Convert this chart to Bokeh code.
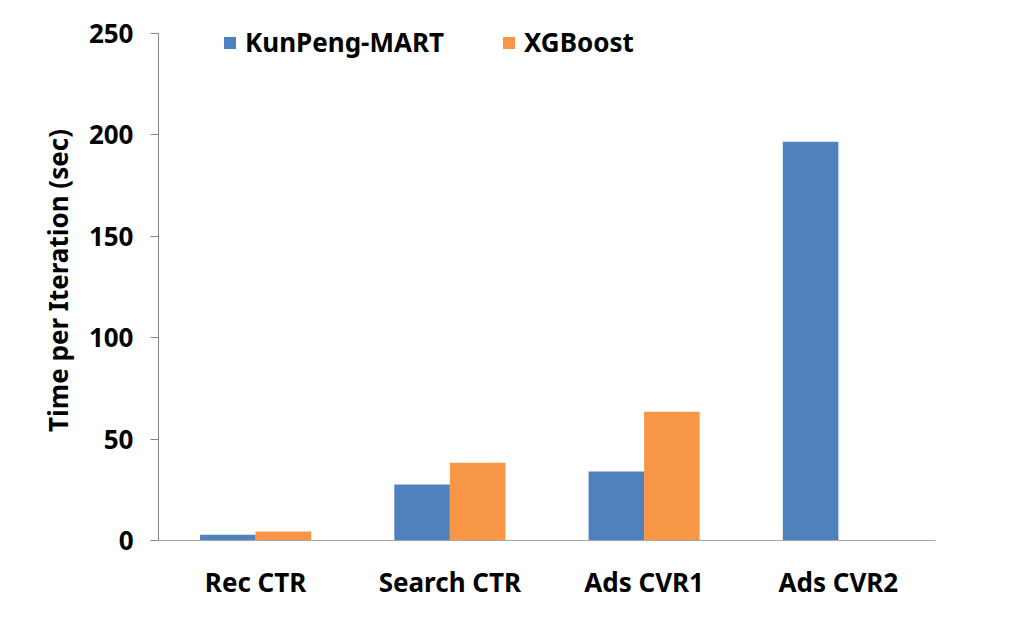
from bokeh.plotting import figure
from bokeh.models import ColumnDataSource, FactorRange, Range1d, Legend, LegendItem, FixedTicker
from bokeh.transform import dodge
from bokeh.embed import file_html
from bokeh.resources import INLINE

categories = ["Rec CTR", "Search CTR", "Ads CVR1", "Ads CVR2"]
kunpeng = [2.8, 27.6, 34.0, 196.6]
xgboost = [4.4, 38.3, 63.5, float("nan")]
series_names = ["KunPeng-MART", "XGBoost"]
y_ticks = [0, 50, 100, 150, 200, 250]

FONT = "Noto Sans"
BLUE = "#4F81BD"
ORANGE = "#F79646"

src = ColumnDataSource(dict(cat=categories, kp=kunpeng, xg=xgboost))

# frame extends 13 px above the 250 tick so the legend sits inside it;
# the axis line itself is bounded to 0..250
p = figure(width=1020, height=636, x_range=FactorRange(*categories),
           y_range=Range1d(0, 256.4), output_backend="svg", toolbar_location=None,
           min_border_left=158, min_border_right=85, min_border_top=20, min_border_bottom=96)
p.outline_line_color = None
p.xgrid.visible = False
p.ygrid.visible = False

bw = 0.286
r1 = p.vbar(x=dodge("cat", -bw / 2, range=p.x_range), top="kp", width=bw, source=src,
            fill_color=BLUE, line_color=None)
r2 = p.vbar(x=dodge("cat", bw / 2, range=p.x_range), top="xg", width=bw, source=src,
            fill_color=ORANGE, line_color=None)

# axes
p.yaxis.ticker = FixedTicker(ticks=y_ticks)
p.yaxis.bounds = (0, 250)
p.yaxis.axis_line_color = "#868686"
p.yaxis.major_tick_line_color = "#868686"
p.yaxis.major_tick_out = 8
p.yaxis.major_tick_in = 0
p.yaxis.minor_tick_line_color = None
p.yaxis.major_label_text_font = FONT
p.yaxis.major_label_text_font_style = "bold"
p.yaxis.major_label_text_font_size = "26px"
p.yaxis.major_label_text_color = "black"
p.yaxis.major_label_standoff = 17
p.yaxis.axis_label = "Time per Iteration (sec)"
p.yaxis.axis_label_text_font = FONT
p.yaxis.axis_label_text_font_style = "bold"
p.yaxis.axis_label_text_font_size = "26px"
p.yaxis.axis_label_text_color = "black"
p.yaxis.axis_label_standoff = 10

p.xaxis.axis_line_color = "#A6A6A6"
p.xaxis.major_tick_line_color = None
p.xaxis.minor_tick_line_color = None
p.xaxis.major_label_text_font = FONT
p.xaxis.major_label_text_font_style = "bold"
p.xaxis.major_label_text_font_size = "26px"
p.xaxis.major_label_text_color = "black"
p.xaxis.major_label_standoff = 17

legend = Legend(items=[LegendItem(label=series_names[0], renderers=[r1]),
                       LegendItem(label=series_names[1], renderers=[r2])],
                orientation="horizontal", location=(64, 480),
                padding=0, margin=0, spacing=57, label_standoff=8,
                glyph_width=15, glyph_height=15,
                border_line_color=None, background_fill_alpha=0,
                label_text_font=FONT, label_text_font_style="bold",
                label_text_font_size="26px", label_text_color="black")
p.add_layout(legend, "center")

open("out.html", "w").write(file_html(p, INLINE))
